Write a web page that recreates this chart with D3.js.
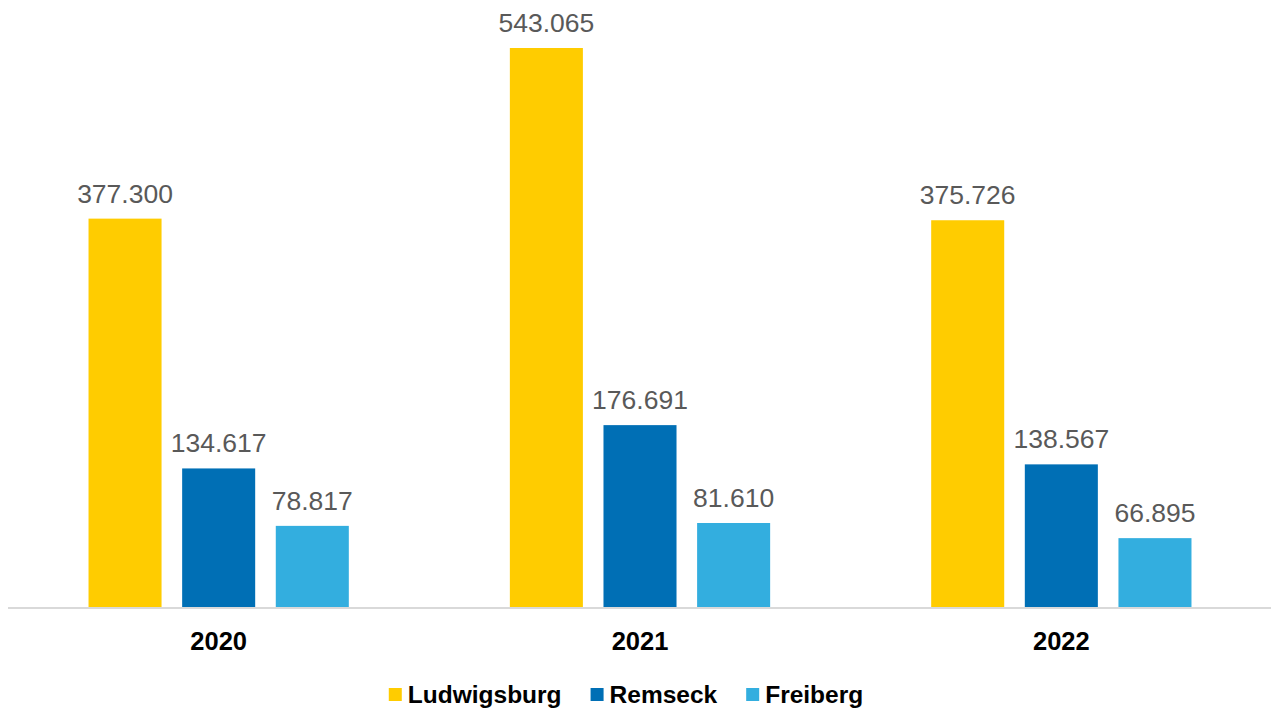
<!DOCTYPE html>
<html>
<head>
<meta charset="utf-8">
<script src="https://cdn.jsdelivr.net/npm/d3@7"></script>
<style>
  body { margin: 0; background: #fff; }
  svg { display: block; font-family: "Liberation Sans", Arial, sans-serif; }
</style>
</head>
<body>
<div id="chart"></div>
<script>
// Chart data
const years = ["2020", "2021", "2022"];
const cities = ["Ludwigsburg", "Remseck", "Freiberg"];
const ludwigsburg = [377300, 543065, 375726];
const remseck = [134617, 176691, 138567];
const freiberg = [78817, 81610, 66895];
const colors = ["#FFCC00", "#006FB5", "#33AEDF"];

const width = 1271, height = 711;
const baseY = 607;

const svg = d3.select("#chart")
    .append("svg")
    .attr("width", width)
    .attr("height", height);

const seriesValues = [ludwigsburg, remseck, freiberg];
const rows = [];
years.forEach((yr, i) => {
    cities.forEach((c, j) => {
        rows.push({ year: yr, city: c, value: seriesValues[j][i], color: colors[j] });
    });
});

// Scales
const x0 = d3.scaleBand().domain(years).range([8, 1272]).padding(0);
const x1 = d3.scaleBand().domain(cities).range([0, x0.bandwidth()])
    .paddingInner(0.22).paddingOuter(0.86);
const y = d3.scaleLinear().domain([0, 543065]).range([baseY, 48]);

const fmt = d3.formatLocale({ decimal: ",", thousands: ".", grouping: [3], currency: ["", "€"] }).format(",d");

// Bars
svg.selectAll("rect.bar")
    .data(rows)
    .enter()
    .append("rect")
    .attr("class", "bar")
    .attr("x", d => x0(d.year) + x1(d.city))
    .attr("y", d => y(d.value))
    .attr("width", x1.bandwidth())
    .attr("height", d => baseY - y(d.value))
    .attr("fill", d => d.color);

// Value labels
svg.selectAll("text.val")
    .data(rows)
    .enter()
    .append("text")
    .attr("class", "val")
    .attr("x", d => x0(d.year) + x1(d.city) + x1.bandwidth() / 2)
    .attr("y", d => y(d.value) - 16)
    .attr("text-anchor", "middle")
    .attr("fill", "#595959")
    .style("font-size", "26.5px")
    .text(d => fmt(d.value));

// Baseline axis
svg.append("line")
    .attr("x1", 8).attr("x2", 1271)
    .attr("y1", baseY + 1).attr("y2", baseY + 1)
    .attr("stroke", "#d9d9d9")
    .attr("stroke-width", 2);

// Category labels
const xAxis = svg.append("g")
    .attr("transform", `translate(0,${baseY})`)
    .call(d3.axisBottom(x0).tickSize(0).tickPadding(0));
xAxis.select(".domain").remove();
xAxis.selectAll("text")
    .attr("dy", 0)
    .attr("y", 43)
    .attr("fill", "#000")
    .style("font-family", "'Liberation Sans', Arial, sans-serif")
    .style("font-size", "25.5px")
    .style("font-weight", "bold");

// Legend
const legend = svg.append("g");
const items = legend.selectAll("g")
    .data(cities)
    .enter()
    .append("g");
items.append("rect")
    .attr("width", 13).attr("height", 13)
    .attr("y", 688)
    .attr("fill", (d, i) => colors[i]);
items.append("text")
    .attr("x", 19)
    .attr("y", 703)
    .style("font-size", "24.5px")
    .style("font-weight", "bold")
    .attr("fill", "#000")
    .text(d => d);

let cx = 0;
const offsets = [];
items.each(function() {
    const w = d3.select(this).select("text").node().getComputedTextLength();
    offsets.push(cx);
    cx += 19 + w + 29;
});
const total = cx - 29;
const startX = 626 - total / 2;
items.attr("transform", (d, i) => `translate(${startX + offsets[i]},0)`);
</script>
</body>
</html>
